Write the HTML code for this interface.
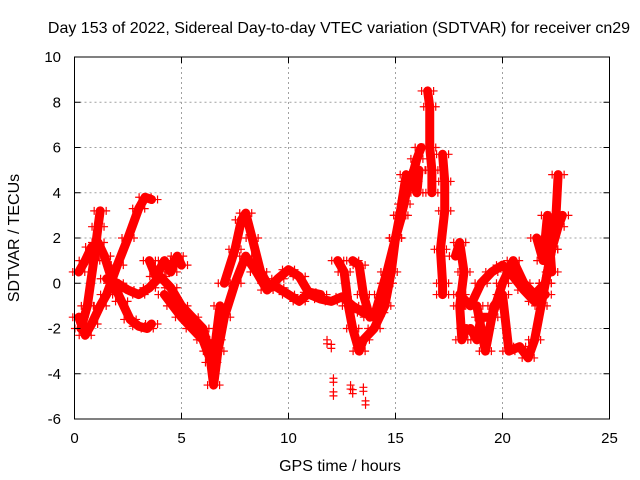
<!DOCTYPE html>
<html><head><meta charset="utf-8"><style>
body{margin:0;background:#fff}
svg{display:block;font-family:"Liberation Sans",sans-serif}
</style></head><body>
<svg id="chart" width="640" height="480" viewBox="0 0 640 480" xmlns="http://www.w3.org/2000/svg">
<rect width="640" height="480" fill="#fff"/>
<g id="grid"></g>
<g id="series"></g>
<rect x="74.5" y="57" width="535" height="362" fill="none" stroke="#000" stroke-width="1"/>
<g id="ticks" font-size="15" fill="#000"></g>
<text x="339" y="33" font-size="16" text-anchor="middle">Day 153 of 2022, Sidereal Day-to-day VTEC variation (SDTVAR) for receiver cn29</text>
<text x="340" y="471" font-size="16" text-anchor="middle">GPS time / hours</text>
<text x="19" y="238" font-size="16" text-anchor="middle" transform="rotate(-90 19 238)">SDTVAR / TECUs</text>
</svg>
<script>
const xTicks=[0,5,10,15,20,25];
const yTicks=[-6,-4,-2,0,2,4,6,8,10];
const track1=[[0.3,-2],[0.6,-1],[0.9,1],[1.1,2.5],[1.2,3.2]];
const track2=[[0.2,0.5],[0.5,1],[0.8,1.6],[1.1,1.8],[1.4,1.2],[1.8,0],[2.2,-0.8],[2.6,-1.6],[3,-1.9],[3.4,-2],[3.6,-1.8]];
const track3=[[0.2,-1.5],[0.5,-2.3],[0.8,-1.8],[1.2,-1],[1.5,-0.5],[2,0.8],[2.5,2],[3,3.3],[3.3,3.8],[3.6,3.7]];
const track4=[[1.5,0.2],[2,0],[2.5,-0.3],[3,-0.5],[3.5,-0.2],[4,0.3],[4.5,-0.2],[5,-1],[5.5,-1.5],[6,-2],[6.3,-3],[6.5,-4.5],[6.7,-3],[7,-1.5],[7.5,0],[8,1.2],[8.5,0.5],[9,-0.3],[9.5,0.2],[10,0.6],[10.5,0.3],[11,-0.5],[11.5,-0.7],[12,-0.8],[12.5,-0.6],[13,-1],[13.5,-1.3],[14,-1.5],[14.3,-0.5],[14.6,0.5],[15,2],[15.3,3]];
const track5=[[7,0],[7.5,1.5],[7.8,2.8],[8,3.1],[8.3,2],[8.7,0.5],[9,0],[9.5,-0.2],[10,-0.5],[10.5,-0.8],[11,-0.4],[11.5,-0.5]];
const track6=[[4.2,-0.5],[4.6,-1],[5,-1.5],[5.5,-2],[6,-2.5],[6.4,-3.5],[6.6,-2.5],[6.8,-1]];
const track7=[[3.5,1],[3.8,0.3],[4.2,1],[4.5,0.5],[4.8,1.2],[5,0.8]];
const track8=[[12.3,1],[12.6,0.5],[12.8,-1],[13,-2],[13.3,-3],[13.5,-2.5],[14,-2],[14.5,-1],[14.8,0.5],[15,2],[15.2,3]];
const track9=[[13,1],[13.3,0.8],[13.5,-0.5],[13.8,-1.5],[14.2,-1.3],[14.6,0],[15,2],[15.4,3.5],[15.6,4.5],[15.8,4.8],[16,5.5],[16.2,6]];
const track10=[[15.2,3],[15.5,4.8],[15.8,4.5],[16,4],[16.1,5]];
const track11=[[16.5,8.5],[16.6,7.8],[16.6,6],[16.7,5],[16.7,4]];
const track12=[[17.2,5.7],[17.3,4.5],[17.3,3.2],[17.1,1.5],[17.2,0],[17.2,-0.5]];
const track13=[[17.8,1.2],[18,1.8],[18.2,0.5],[18,-1],[18.1,-2.5],[18.3,-2]];
const track14=[[18,-0.5],[18.5,-1],[19,0],[19.5,0.5],[20,0.8],[20.5,0.3],[21,-0.3],[21.5,-0.8],[22,-0.5]];
const track15=[[18.5,-2],[18.8,-2.5],[19,-1.5],[19.5,-1.5],[20,0],[20.5,1],[21,0],[21.5,-0.5],[22,0],[22.3,1.5],[22.6,2.5],[22.8,3]];
const track16=[[18.8,-1],[19.2,-3],[19.6,-1],[20,-0.5],[20.3,-3],[20.8,-2.8],[21.2,-3.3],[21.5,-2.5],[21.8,-1],[22,0],[22.3,1.5],[22.5,3],[22.6,4.8]];
const track17=[[21.6,2],[21.9,1],[22.1,3],[22.3,0.5]];
const isolated=[[11.8,-2.5],[12,-2.7],[12.1,-4.2],[12.1,-4.8],[12.9,-4.5],[13,-4.7],[13.5,-4.6],[13.6,-5.2]];
const tracks=[track1,track2,track3,track4,track5,track6,track7,track8,track9,track10,track11,track12,track13,track14,track15,track16,track17];

const X0=74.5,X1=609.5,Y0=419,Y1=57;
function xs(v){return X0+(v-0)/(25-0)*(X1-X0);}
function ys(v){return Y0-(v+6)/(16)*(Y0-Y1);}
const NS="http://www.w3.org/2000/svg";
const grid=document.getElementById('grid'),ticks=document.getElementById('ticks'),ser=document.getElementById('series');
function mk(t,a,p){const e=document.createElementNS(NS,t);for(const k in a)e.setAttribute(k,a[k]);p.appendChild(e);return e;}
xTicks.forEach(v=>{const x=xs(v);
 if(v>0&&v<25){const l=mk('line',{x1:x,x2:x,y1:Y1,y2:Y0,stroke:'#a0a0a0','stroke-dasharray':'2,3'},grid);
 
 }
 const t=mk('text',{x:x,y:443,'text-anchor':'middle'},ticks);t.textContent=v;
 
 
 mk('line',{x1:x,x2:x,y1:Y0,y2:Y0-6,stroke:'#000'},ticks);mk('line',{x1:x,x2:x,y1:Y1,y2:Y1+6,stroke:'#000'},ticks);});
yTicks.forEach(v=>{const y=ys(v);
 if(v>-6&&v<10){const l=mk('line',{x1:X0,x2:X1,y1:y,y2:y,stroke:'#a0a0a0','stroke-dasharray':'2,3'},grid);
 
 }
 const t=mk('text',{x:61,y:y+5,'text-anchor':'end'},ticks);t.textContent=v;
 
 
 mk('line',{x1:X0,x2:X0+6,y1:y,y2:y,stroke:'#000'},ticks);mk('line',{x1:X1,x2:X1-6,y1:y,y2:y,stroke:'#000'},ticks);});
function plus(p,x,y){const g=mk('path',{d:`M${x-4} ${y}H${x+4}M${x} ${y-4}V${y+4}`,stroke:'#f00','stroke-width':1.2,fill:'none'},ser);
 
 }
tracks.forEach((tr,i)=>{
 const pl=mk('polyline',{points:tr.map(p=>xs(p[0])+','+ys(p[1])).join(' '),fill:'none',stroke:'#f00','stroke-width':9,'stroke-linejoin':'round','stroke-linecap':'round'},ser);
 
 
 tr.forEach(p=>plus(ser,xs(p[0])+6,ys(p[1])));
 tr.forEach(p=>plus(ser,xs(p[0])-6,ys(p[1])));
});
isolated.forEach(p=>{plus(ser,xs(p[0]),ys(p[1]));plus(ser,xs(p[0]),ys(p[1])+4);});
</script>
</body></html>
